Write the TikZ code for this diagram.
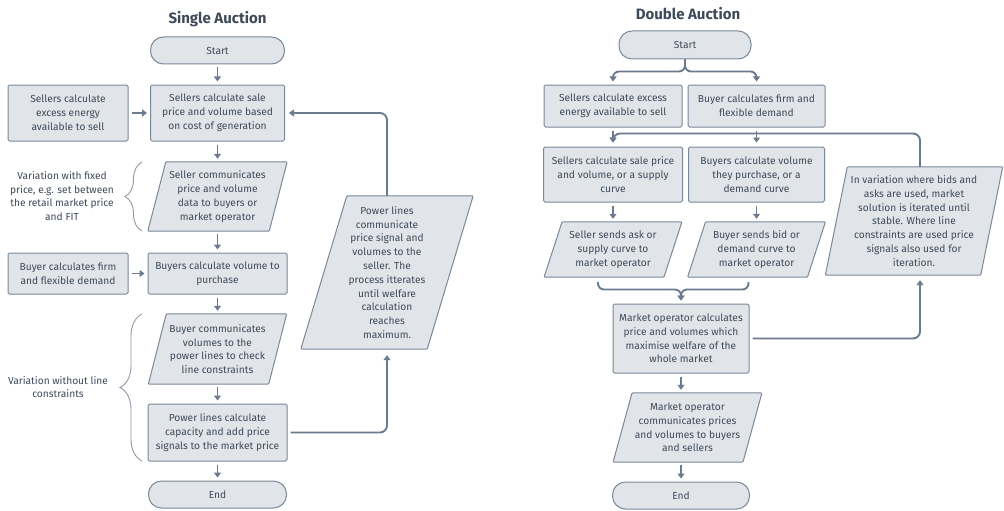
\documentclass[tikz,border=0pt]{standalone}
\usepackage{fontspec}
\setmainfont{Fira Sans}
\usetikzlibrary{arrows.meta,calc,decorations.pathreplacing,backgrounds}
\definecolor{bfill}{HTML}{E1E5EA}
\definecolor{bdraw}{HTML}{7A8898}
\definecolor{btext}{HTML}{3E4A59}
\definecolor{aline}{HTML}{6B7A8C}
\definecolor{brcol}{HTML}{8E9AA8}
\newcommand\pgram[2]{%
  \begin{scope}[on background layer]
    \filldraw[pgshape] ($(#1.south west)+(-#2,0)$) -- ($(#1.north west)+(#2,0)$) -- ($(#1.north east)+(#2,0)$) -- ($(#1.south east)+(-#2,0)$) -- cycle;
  \end{scope}}
\begin{document}
\begin{tikzpicture}[x=1pt,y=-1pt,
  every node/.style={font=\fontsize{10.2}{13.8}\selectfont, text=btext, align=center, inner sep=0pt},
  box/.style={draw=bdraw, fill=bfill, line width=1pt, rounded corners=1.5pt},
  term/.style={draw=bdraw, fill=bfill, line width=1pt, rounded corners=13pt, minimum height=27pt},
  pgnode/.style={},
  pgshape/.style={draw=bdraw, fill=bfill, line width=1pt, rounded corners=1pt},
  ttl/.style={font=\bfseries\fontsize{15}{18}\selectfont},
  note/.style={},
  ln/.style={draw=aline, line width=1.9pt},
  arr/.style={ln, -{Triangle[width=7pt,length=5pt]}, shorten >=3pt, shorten <=3pt},
  brc/.style={draw=brcol, line width=0.9pt, decorate},
]
\begin{scope}[on background layer]
  \fill[white] (0,0) rectangle (1004,511);
\end{scope}
\useasboundingbox (0,0) rectangle (1004,511);

% ---------------- Single auction ----------------
\node[ttl] (t1) at (217.5,19) {Single Auction};
\node[term, minimum width=134pt] (st1) at (217.5,50.5) {Start};
\node[box, minimum width=134pt, minimum height=56pt] (s1) at (217.5,113) {Sellers calculate sale\\price and volume based\\on cost of generation};
\node[box, minimum width=120pt, minimum height=56pt] (s0) at (68,113) {Sellers calculate\\excess energy\\available to sell};
\node[pgnode, minimum width=121pt, minimum height=69pt] (s2) at (217.5,196.5) {Seller communicates\\price and volume\\data to buyers or\\market operator};
\pgram{s2}{9}
\node[note] (v1) at (62,196) {Variation with fixed\\price, e.g. set between\\the retail market price\\and FIT};
\node[box, minimum width=120pt, minimum height=41pt] (b0) at (68,273.5) {Buyer calculates firm\\and flexible demand};
\node[box, minimum width=139pt, minimum height=41pt] (b1) at (217.5,273.5) {Buyers calculate volume to\\purchase};
\node[pgnode, minimum width=120pt, minimum height=70pt] (b2) at (217.5,349) {Buyer communicates\\volumes to the\\power lines to check\\line constraints};
\pgram{b2}{9}
\node[box, minimum width=139pt, minimum height=57pt] (p1) at (217.5,432.5) {Power lines calculate\\capacity and add price\\signals to the market price};
\node[note] (v2) at (58,387) {Variation without line\\constraints};
\node[term, minimum width=138pt] (en1) at (217.5,494.5) {End};
\node[pgnode, minimum width=126pt, minimum height=153pt] (lp) at (387,272.5) {Power lines\\communicate\\price signal and\\volumes to the\\seller. The\\process itterates\\until welfare\\calculation\\reaches\\maximum.};
\pgram{lp}{23}

\draw[brc, decoration={brace, amplitude=17pt}] (142,231) -- (142,162);
\draw[brc, decoration={brace, amplitude=22pt}] (142,461) -- (142,314);

\draw[arr] (st1.south) -- (s1.north);
\draw[arr] (s0.east) -- (s1.west);
\draw[arr] (s1.south) -- (s2.north);
\draw[arr] (s2.south) -- (b1.north);
\draw[arr] (b0.east) -- (b1.west);
\draw[arr] (b1.south) -- (b2.north);
\draw[arr] (b2.south) -- (p1.north);
\draw[arr] (p1.south) -- (en1.north);
\draw[arr, rounded corners=7pt, shorten >=6pt] (p1.east) -| (lp.south);
\draw[arr, rounded corners=7pt, shorten <=0pt, shorten >=4pt] (lp.north) |- (s1.east);

% ---------------- Double auction ----------------
\node[ttl] (t2) at (688,14) {Double Auction};
\node[term, minimum width=132pt, minimum height=28pt] (st2) at (685,45) {Start};
\node[box, minimum width=138pt, minimum height=42pt] (r1a) at (613,106) {Sellers calculate excess\\energy available to sell};
\node[box, minimum width=137pt, minimum height=42pt] (r1b) at (756.5,106) {Buyer calculates firm and\\flexible demand};
\node[box, minimum width=139pt, minimum height=55pt] (r2a) at (613,174.5) {Sellers calculate sale price\\and volume, or a supply\\curve};
\node[box, minimum width=136pt, minimum height=55pt] (r2b) at (756.5,174.5) {Buyers calculate volume\\they purchase, or a\\demand curve};
\node[pgnode, minimum width=119.5pt, minimum height=55pt] (r3a) at (613,249.5) {Seller sends ask or\\supply curve to\\market operator};
\pgram{r3a}{9}
\node[pgnode, minimum width=119.5pt, minimum height=55pt] (r3b) at (756.5,249.5) {Buyer sends bid or\\demand curve to\\market operator};
\pgram{r3b}{9}
\node[pgnode, minimum width=155pt, minimum height=108pt] (rv) at (914,221) {In variation where bids and\\asks are used, market\\solution is iterated until\\stable. Where line\\constraints are used price\\signals also used for\\iteration.};
\pgram{rv}{11}
\node[box, minimum width=136pt, minimum height=69pt] (m1) at (681,338.5) {Market operator calculates\\price and volumes which\\maximise welfare of the\\whole market};
\node[pgnode, minimum width=129.5pt, minimum height=69pt] (m2) at (687.5,427.5) {Market operator\\communicates prices\\and volumes to buyers\\and sellers};
\pgram{m2}{9.5}
\node[term, minimum width=137pt] (en2) at (681,495.5) {End};

\draw[arr, rounded corners=6pt, shorten <=0pt] (st2.south) -- ($(st2.south)+(0,12)$) -| (r1a.north);
\draw[arr, rounded corners=6pt, shorten <=0pt] (st2.south) -- ($(st2.south)+(0,12)$) -| (r1b.north);
\draw[arr, shorten >=4pt] (r1a.south) -- (r2a.north);
\draw[arr, shorten >=4pt] (r1b.south) -- (r2b.north);
\draw[arr, rounded corners=7pt, shorten <=0pt, shorten >=4pt] ($(rv.north)+(6,0)$) |- ($(r1a.south)+(0,6)$) -- (r2a.north);
\draw[arr] (r2a.south) -- (r3a.north);
\draw[arr] (r2b.south) -- (r3b.north);
\draw[arr, rounded corners=6pt, shorten <=0pt] ($(r3a.south)+(-15,5)$) |- ($(m1.north)+(0,-14)$) -- (m1.north);
\draw[arr, rounded corners=6pt, shorten <=0pt] ($(r3b.south)+(-8,5)$) |- ($(m1.north)+(0,-14)$) -- (m1.north);
\draw[arr, rounded corners=7pt, shorten >=5pt] (m1.east) -| ($(rv.south)+(6,0)$);
\draw[arr] (m1.south) -- (m1.south |- m2.north);
\draw[arr] (m1.south |- m2.south) -- (en2.north);
\end{tikzpicture}
\end{document}
